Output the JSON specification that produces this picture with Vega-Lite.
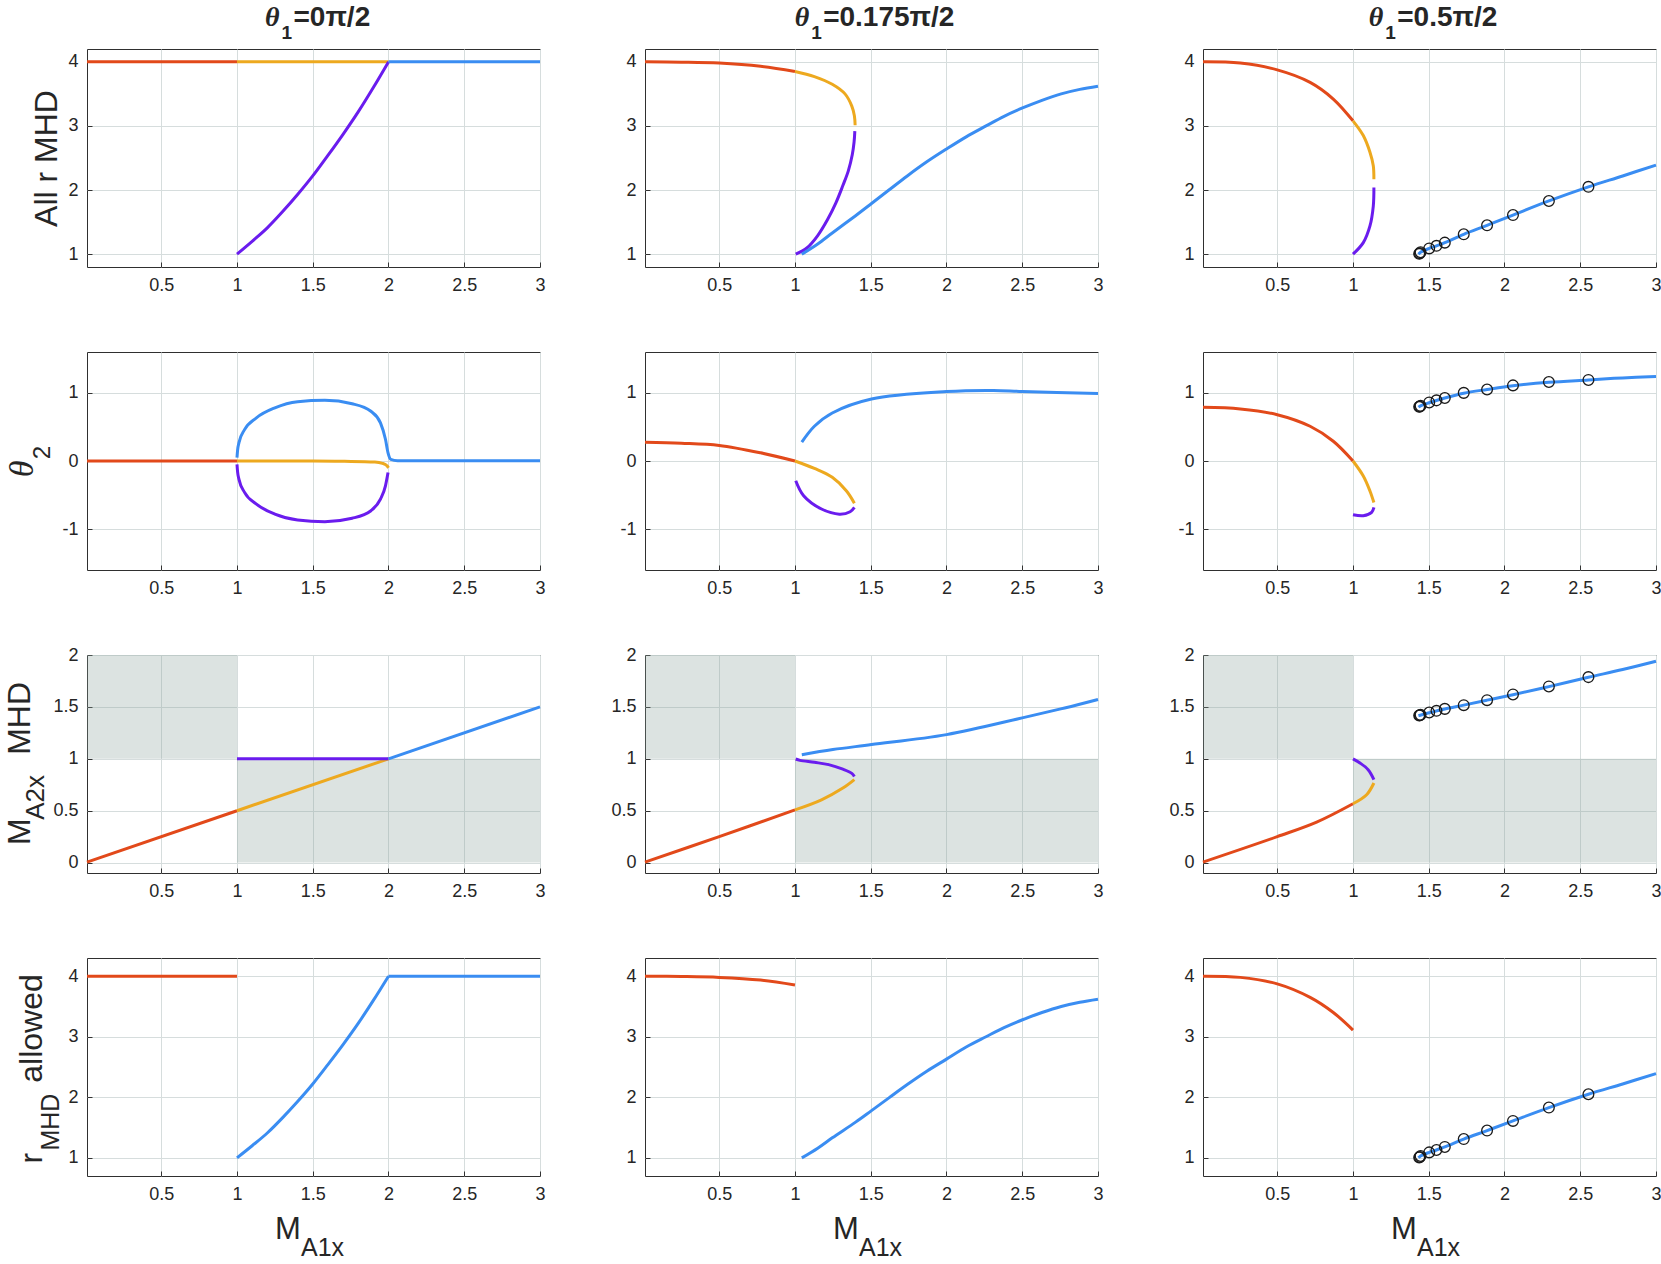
{
"$schema": "https://vega.github.io/schema/vega-lite/v6.json",
"background": "white",
"padding": {"left": 3, "top": 3, "right": 0, "bottom": 0},
"config": {
 "view": {"stroke": "#2f2f2f", "strokeWidth": 1},
 "axis": {"domain": false, "grid": true, "gridColor": "#d6dddd", "gridWidth": 1, "tickColor": "#333333", "tickSize": -5, "tickWidth": 1, "labelFont": "Liberation Sans", "labelFontSize": 18, "labelColor": "#262626", "labelFlush": false, "labelOverlap": false},
 "axisX": {"labelPadding": 14},
 "axisY": {"labelPadding": 14},
 "text": {"font": "Liberation Sans", "color": "#262626"}
},
"datasets": {
 "one": [{}],
 "shade": [{"x": 0.01, "x2": 1, "y": 1, "y2": 2}, {"x": 1, "x2": 3, "y": 0, "y2": 1}],
 "o_r": [{"x":1.437,"y":1.005},{"x":1.441,"y":1.015},{"x":1.446,"y":1.03},{"x":1.503,"y":1.09},{"x":1.551,"y":1.13},{"x":1.606,"y":1.18},{"x":1.731,"y":1.31},{"x":1.885,"y":1.45},{"x":2.056,"y":1.61},{"x":2.293,"y":1.83},{"x":2.554,"y":2.05}],
 "o_t": [{"x":1.437,"y":0.795},{"x":1.441,"y":0.8},{"x":1.446,"y":0.81},{"x":1.503,"y":0.86},{"x":1.551,"y":0.89},{"x":1.606,"y":0.925},{"x":1.731,"y":1.0},{"x":1.885,"y":1.05},{"x":2.056,"y":1.11},{"x":2.293,"y":1.16},{"x":2.554,"y":1.19}],
 "o_m": [{"x":1.437,"y":1.418},{"x":1.441,"y":1.42},{"x":1.446,"y":1.424},{"x":1.503,"y":1.446},{"x":1.551,"y":1.462},{"x":1.606,"y":1.481},{"x":1.731,"y":1.517},{"x":1.885,"y":1.565},{"x":2.056,"y":1.62},{"x":2.293,"y":1.697},{"x":2.554,"y":1.787}],
 "c1r": [
  {"b":"b1","i":0,"x":0.01,"y":4},{"b":"b1","i":1,"x":1,"y":4},
  {"b":"b2","i":0,"x":1,"y":4},{"b":"b2","i":1,"x":2,"y":4},
  {"b":"b3","i":0,"x":1,"y":1},{"b":"b3","i":1,"x":1.1,"y":1.2},{"b":"b3","i":2,"x":1.2,"y":1.41},{"b":"b3","i":3,"x":1.3,"y":1.66},{"b":"b3","i":4,"x":1.4,"y":1.93},{"b":"b3","i":5,"x":1.5,"y":2.22},{"b":"b3","i":6,"x":1.6,"y":2.54},{"b":"b3","i":7,"x":1.7,"y":2.87},{"b":"b3","i":8,"x":1.8,"y":3.22},{"b":"b3","i":9,"x":1.9,"y":3.6},{"b":"b3","i":10,"x":2,"y":4},
  {"b":"b5","i":0,"x":2,"y":4},{"b":"b5","i":1,"x":3,"y":4}
 ],
 "c1t": [
  {"b":"b1","i":0,"x":0.01,"y":0},{"b":"b1","i":1,"x":1,"y":0},
  {"b":"b2","i":0,"x":1,"y":0},{"b":"b2","i":1,"x":1.5,"y":0},{"b":"b2","i":2,"x":1.71,"y":-0.005},{"b":"b2","i":3,"x":1.91,"y":-0.015},{"b":"b2","i":4,"x":1.96,"y":-0.034},{"b":"b2","i":5,"x":1.99,"y":-0.07},{"b":"b2","i":6,"x":2,"y":-0.1},
  {"b":"b3","i":0,"x":1,"y":-0.05},{"b":"b3","i":1,"x":1.004,"y":-0.16},{"b":"b3","i":2,"x":1.013,"y":-0.27},{"b":"b3","i":3,"x":1.05,"y":-0.46},{"b":"b3","i":4,"x":1.126,"y":-0.63},{"b":"b3","i":5,"x":1.25,"y":-0.78},{"b":"b3","i":6,"x":1.4,"y":-0.865},{"b":"b3","i":7,"x":1.58,"y":-0.89},{"b":"b3","i":8,"x":1.76,"y":-0.84},{"b":"b3","i":9,"x":1.884,"y":-0.73},{"b":"b3","i":10,"x":1.947,"y":-0.56},{"b":"b3","i":11,"x":1.98,"y":-0.365},{"b":"b3","i":12,"x":1.997,"y":-0.17},
  {"b":"b4","i":0,"x":1,"y":0.05},{"b":"b4","i":1,"x":1.004,"y":0.16},{"b":"b4","i":2,"x":1.013,"y":0.27},{"b":"b4","i":3,"x":1.05,"y":0.46},{"b":"b4","i":4,"x":1.126,"y":0.63},{"b":"b4","i":5,"x":1.25,"y":0.78},{"b":"b4","i":6,"x":1.4,"y":0.87},{"b":"b4","i":7,"x":1.58,"y":0.89},{"b":"b4","i":8,"x":1.76,"y":0.84},{"b":"b4","i":9,"x":1.884,"y":0.73},{"b":"b4","i":10,"x":1.947,"y":0.56},{"b":"b4","i":11,"x":1.98,"y":0.32},{"b":"b4","i":12,"x":1.997,"y":0.12},{"b":"b4","i":13,"x":2.015,"y":0.024},{"b":"b4","i":14,"x":2.06,"y":0.005},{"b":"b4","i":15,"x":3,"y":0.005}
 ],
 "c1m": [
  {"b":"b1","i":0,"x":0.01,"y":0.005},{"b":"b1","i":1,"x":1,"y":0.5},
  {"b":"b2","i":0,"x":1,"y":0.5},{"b":"b2","i":1,"x":2,"y":1},
  {"b":"b3","i":0,"x":1,"y":1},{"b":"b3","i":1,"x":2,"y":1},
  {"b":"b4","i":0,"x":2,"y":1},{"b":"b4","i":1,"x":3,"y":1.5}
 ],
 "c1a": [
  {"b":"b1","i":0,"x":0.01,"y":4},{"b":"b1","i":1,"x":1,"y":4},
  {"b":"b4","i":0,"x":1,"y":1},{"b":"b4","i":1,"x":1.1,"y":1.2},{"b":"b4","i":2,"x":1.2,"y":1.41},{"b":"b4","i":3,"x":1.3,"y":1.66},{"b":"b4","i":4,"x":1.4,"y":1.93},{"b":"b4","i":5,"x":1.5,"y":2.22},{"b":"b4","i":6,"x":1.6,"y":2.54},{"b":"b4","i":7,"x":1.7,"y":2.87},{"b":"b4","i":8,"x":1.8,"y":3.22},{"b":"b4","i":9,"x":1.9,"y":3.6},{"b":"b4","i":10,"x":2,"y":4},
  {"b":"b5","i":0,"x":2,"y":4},{"b":"b5","i":1,"x":3,"y":4}
 ],
 "c2r": [
  {"b":"b1","i":0,"x":0.01,"y":4},{"b":"b1","i":1,"x":0.25,"y":3.995},{"b":"b1","i":2,"x":0.5,"y":3.98},{"b":"b1","i":3,"x":0.773,"y":3.93},{"b":"b1","i":4,"x":1,"y":3.85},
  {"b":"b2","i":0,"x":1,"y":3.85},{"b":"b2","i":1,"x":1.128,"y":3.77},{"b":"b2","i":2,"x":1.246,"y":3.65},{"b":"b2","i":3,"x":1.33,"y":3.5},{"b":"b2","i":4,"x":1.375,"y":3.31},{"b":"b2","i":5,"x":1.392,"y":3.16},{"b":"b2","i":6,"x":1.397,"y":3.01},
  {"b":"b3","i":0,"x":1.395,"y":2.92},{"b":"b3","i":1,"x":1.39,"y":2.75},{"b":"b3","i":2,"x":1.378,"y":2.55},{"b":"b3","i":3,"x":1.352,"y":2.3},{"b":"b3","i":4,"x":1.316,"y":2.07},{"b":"b3","i":5,"x":1.27,"y":1.8},{"b":"b3","i":6,"x":1.215,"y":1.54},{"b":"b3","i":7,"x":1.15,"y":1.29},{"b":"b3","i":8,"x":1.08,"y":1.1},{"b":"b3","i":9,"x":1.005,"y":1.0},
  {"b":"b4","i":0,"x":1.045,"y":1.0},{"b":"b4","i":1,"x":1.15,"y":1.16},{"b":"b4","i":2,"x":1.246,"y":1.33},{"b":"b4","i":3,"x":1.4,"y":1.6},{"b":"b4","i":4,"x":1.505,"y":1.79},{"b":"b4","i":5,"x":1.62,"y":2.0},{"b":"b4","i":6,"x":1.741,"y":2.22},{"b":"b4","i":7,"x":1.87,"y":2.44},{"b":"b4","i":8,"x":2.0,"y":2.64},{"b":"b4","i":9,"x":2.13,"y":2.83},{"b":"b4","i":10,"x":2.261,"y":3.0},{"b":"b4","i":11,"x":2.38,"y":3.15},{"b":"b4","i":12,"x":2.502,"y":3.28},{"b":"b4","i":13,"x":2.63,"y":3.4},{"b":"b4","i":14,"x":2.757,"y":3.5},{"b":"b4","i":15,"x":2.88,"y":3.57},{"b":"b4","i":16,"x":3.0,"y":3.62}
 ],
 "c2t": [
  {"b":"b1","i":0,"x":0.01,"y":0.277},{"b":"b1","i":1,"x":0.25,"y":0.262},{"b":"b1","i":2,"x":0.5,"y":0.229},{"b":"b1","i":3,"x":0.773,"y":0.12},{"b":"b1","i":4,"x":1,"y":0},
  {"b":"b2","i":0,"x":1,"y":0},{"b":"b2","i":1,"x":1.128,"y":-0.11},{"b":"b2","i":2,"x":1.246,"y":-0.24},{"b":"b2","i":3,"x":1.34,"y":-0.44},{"b":"b2","i":4,"x":1.392,"y":-0.62},
  {"b":"b3","i":0,"x":1.392,"y":-0.68},{"b":"b3","i":1,"x":1.364,"y":-0.745},{"b":"b3","i":2,"x":1.293,"y":-0.78},{"b":"b3","i":3,"x":1.175,"y":-0.705},{"b":"b3","i":4,"x":1.057,"y":-0.51},{"b":"b3","i":5,"x":1.005,"y":-0.29},
  {"b":"b4","i":0,"x":1.045,"y":0.277},{"b":"b4","i":1,"x":1.128,"y":0.51},{"b":"b4","i":2,"x":1.246,"y":0.705},{"b":"b4","i":3,"x":1.505,"y":0.91},{"b":"b4","i":4,"x":2.0,"y":1.02},{"b":"b4","i":5,"x":2.31,"y":1.036},{"b":"b4","i":6,"x":2.5,"y":1.02},{"b":"b4","i":7,"x":3.0,"y":0.99}
 ],
 "c2m": [
  {"b":"b1","i":0,"x":0.01,"y":0.005},{"b":"b1","i":1,"x":0.5,"y":0.25},{"b":"b1","i":2,"x":1,"y":0.508},
  {"b":"b2","i":0,"x":1,"y":0.508},{"b":"b2","i":1,"x":1.175,"y":0.605},{"b":"b2","i":2,"x":1.316,"y":0.718},{"b":"b2","i":3,"x":1.392,"y":0.8},
  {"b":"b3","i":0,"x":1.392,"y":0.83},{"b":"b3","i":1,"x":1.375,"y":0.86},{"b":"b3","i":2,"x":1.316,"y":0.9},{"b":"b3","i":3,"x":1.222,"y":0.944},{"b":"b3","i":4,"x":1.128,"y":0.966},{"b":"b3","i":5,"x":1.033,"y":0.985},{"b":"b3","i":6,"x":1.005,"y":0.998},
  {"b":"b4","i":0,"x":1.045,"y":1.04},{"b":"b4","i":1,"x":1.25,"y":1.089},{"b":"b4","i":2,"x":1.505,"y":1.137},{"b":"b4","i":3,"x":2.0,"y":1.233},{"b":"b4","i":4,"x":2.5,"y":1.394},{"b":"b4","i":5,"x":2.78,"y":1.49},{"b":"b4","i":6,"x":3.0,"y":1.572}
 ],
 "c2a": [
  {"b":"b1","i":0,"x":0.01,"y":4},{"b":"b1","i":1,"x":0.25,"y":3.995},{"b":"b1","i":2,"x":0.5,"y":3.98},{"b":"b1","i":3,"x":0.773,"y":3.935},{"b":"b1","i":4,"x":1,"y":3.855},
  {"b":"b4","i":0,"x":1.045,"y":1.0},{"b":"b4","i":1,"x":1.15,"y":1.16},{"b":"b4","i":2,"x":1.246,"y":1.33},{"b":"b4","i":3,"x":1.4,"y":1.59},{"b":"b4","i":4,"x":1.505,"y":1.78},{"b":"b4","i":5,"x":1.62,"y":1.99},{"b":"b4","i":6,"x":1.741,"y":2.21},{"b":"b4","i":7,"x":1.87,"y":2.43},{"b":"b4","i":8,"x":2.0,"y":2.63},{"b":"b4","i":9,"x":2.13,"y":2.83},{"b":"b4","i":10,"x":2.261,"y":3.0},{"b":"b4","i":11,"x":2.38,"y":3.15},{"b":"b4","i":12,"x":2.502,"y":3.28},{"b":"b4","i":13,"x":2.63,"y":3.4},{"b":"b4","i":14,"x":2.757,"y":3.5},{"b":"b4","i":15,"x":2.88,"y":3.57},{"b":"b4","i":16,"x":3.0,"y":3.62}
 ],
 "c3r": [
  {"b":"b1","i":0,"x":0.01,"y":4},{"b":"b1","i":1,"x":0.256,"y":3.98},{"b":"b1","i":2,"x":0.5,"y":3.875},{"b":"b1","i":3,"x":0.717,"y":3.68},{"b":"b1","i":4,"x":0.87,"y":3.42},{"b":"b1","i":5,"x":1,"y":3.08},
  {"b":"b2","i":0,"x":1,"y":3.08},{"b":"b2","i":1,"x":1.068,"y":2.85},{"b":"b2","i":2,"x":1.112,"y":2.59},{"b":"b2","i":3,"x":1.134,"y":2.38},{"b":"b2","i":4,"x":1.138,"y":2.17},
  {"b":"b3","i":0,"x":1.138,"y":2.04},{"b":"b3","i":1,"x":1.134,"y":1.75},{"b":"b3","i":2,"x":1.112,"y":1.44},{"b":"b3","i":3,"x":1.068,"y":1.18},{"b":"b3","i":4,"x":1,"y":1.0},
  {"b":"b4","i":0,"x":1.432,"y":1.0},{"b":"b4","i":1,"x":1.446,"y":1.03},{"b":"b4","i":2,"x":1.503,"y":1.09},{"b":"b4","i":3,"x":1.551,"y":1.13},{"b":"b4","i":4,"x":1.606,"y":1.18},{"b":"b4","i":5,"x":1.731,"y":1.31},{"b":"b4","i":6,"x":1.885,"y":1.45},{"b":"b4","i":7,"x":2.056,"y":1.61},{"b":"b4","i":8,"x":2.293,"y":1.83},{"b":"b4","i":9,"x":2.554,"y":2.05},{"b":"b4","i":10,"x":2.78,"y":2.22},{"b":"b4","i":11,"x":3.0,"y":2.39}
 ],
 "c3t": [
  {"b":"b1","i":0,"x":0.01,"y":0.788},{"b":"b1","i":1,"x":0.256,"y":0.764},{"b":"b1","i":2,"x":0.5,"y":0.68},{"b":"b1","i":3,"x":0.717,"y":0.51},{"b":"b1","i":4,"x":0.87,"y":0.29},{"b":"b1","i":5,"x":1,"y":0},
  {"b":"b2","i":0,"x":1,"y":0},{"b":"b2","i":1,"x":1.068,"y":-0.22},{"b":"b2","i":2,"x":1.112,"y":-0.44},{"b":"b2","i":3,"x":1.138,"y":-0.61},
  {"b":"b3","i":0,"x":1.138,"y":-0.68},{"b":"b3","i":1,"x":1.123,"y":-0.754},{"b":"b3","i":2,"x":1.068,"y":-0.803},{"b":"b3","i":3,"x":1.0,"y":-0.788},
  {"b":"b4","i":0,"x":1.432,"y":0.79},{"b":"b4","i":1,"x":1.446,"y":0.81},{"b":"b4","i":2,"x":1.503,"y":0.855},{"b":"b4","i":3,"x":1.606,"y":0.925},{"b":"b4","i":4,"x":1.731,"y":0.995},{"b":"b4","i":5,"x":1.885,"y":1.05},{"b":"b4","i":6,"x":2.056,"y":1.105},{"b":"b4","i":7,"x":2.293,"y":1.155},{"b":"b4","i":8,"x":2.554,"y":1.19},{"b":"b4","i":9,"x":2.78,"y":1.22},{"b":"b4","i":10,"x":3.0,"y":1.24}
 ],
 "c3m": [
  {"b":"b1","i":0,"x":0.01,"y":0.005},{"b":"b1","i":1,"x":0.5,"y":0.25},{"b":"b1","i":2,"x":0.76,"y":0.39},{"b":"b1","i":3,"x":1,"y":0.567},
  {"b":"b2","i":0,"x":1,"y":0.567},{"b":"b2","i":1,"x":1.09,"y":0.654},{"b":"b2","i":2,"x":1.138,"y":0.767},
  {"b":"b3","i":0,"x":1.138,"y":0.8},{"b":"b3","i":1,"x":1.1,"y":0.895},{"b":"b3","i":2,"x":1.046,"y":0.96},{"b":"b3","i":3,"x":1.0,"y":1.0},
  {"b":"b4","i":0,"x":1.432,"y":1.415},{"b":"b4","i":1,"x":1.503,"y":1.443},{"b":"b4","i":2,"x":1.606,"y":1.48},{"b":"b4","i":3,"x":1.731,"y":1.517},{"b":"b4","i":4,"x":1.885,"y":1.565},{"b":"b4","i":5,"x":2.056,"y":1.617},{"b":"b4","i":6,"x":2.293,"y":1.695},{"b":"b4","i":7,"x":2.554,"y":1.785},{"b":"b4","i":8,"x":2.78,"y":1.86},{"b":"b4","i":9,"x":3.0,"y":1.94}
 ],
 "c3a": [
  {"b":"b1","i":0,"x":0.01,"y":4},{"b":"b1","i":1,"x":0.256,"y":3.98},{"b":"b1","i":2,"x":0.5,"y":3.873},{"b":"b1","i":3,"x":0.717,"y":3.65},{"b":"b1","i":4,"x":0.87,"y":3.4},{"b":"b1","i":5,"x":1,"y":3.11},
  {"b":"b4","i":0,"x":1.432,"y":1.0},{"b":"b4","i":1,"x":1.446,"y":1.03},{"b":"b4","i":2,"x":1.503,"y":1.09},{"b":"b4","i":3,"x":1.551,"y":1.13},{"b":"b4","i":4,"x":1.606,"y":1.18},{"b":"b4","i":5,"x":1.731,"y":1.31},{"b":"b4","i":6,"x":1.885,"y":1.45},{"b":"b4","i":7,"x":2.056,"y":1.61},{"b":"b4","i":8,"x":2.293,"y":1.83},{"b":"b4","i":9,"x":2.554,"y":2.05},{"b":"b4","i":10,"x":2.78,"y":2.22},{"b":"b4","i":11,"x":3.0,"y":2.39}
 ]
},
"columns": 3,
"bounds": "flush",
"align": "all",
"spacing": {"row": 85, "column": 105},
"concat": [
 {"width": 453, "height": 218, "layer": [
  {"data": {"name": "c1r"}, "mark": {"type": "line", "strokeWidth": 3, "interpolate": "monotone"},
   "encoding": {
    "x": {"field": "x", "type": "quantitative", "scale": {"domain": [0.01, 3], "nice": false, "zero": false}, "axis": {"values": [0.5,1,1.5,2,2.5,3], "title": null, "labelExpr": "'' + datum.value"}},
    "y": {"field": "y", "type": "quantitative", "scale": {"domain": [0.8, 4.2], "nice": false, "zero": false}, "axis": {"values": [1,2,3,4], "labelExpr": "'' + datum.value", "title": "All r MHD", "titleX": -31, "titleY": 109, "titleAngle": 270, "titleAlign": "center", "titleBaseline": "alphabetic", "titleFont": "Liberation Sans", "titleFontSize": 32, "titleFontWeight": "normal", "titleColor": "#262626"}},
    "color": {"field": "b", "type": "nominal", "scale": {"domain": ["b1","b2","b3","b4","b5"], "range": ["#E2491A","#EDA91F","#6A1CEE","#3A8DF2","#3A8DF2"]}, "legend": null},
    "order": {"field": "i", "type": "quantitative"}}},
  {"data": {"name": "one"}, "mark": {"type": "text", "text": "θ", "font": "Liberation Serif", "fontStyle": "italic", "fontWeight": "bold", "fontSize": 28, "align": "left", "baseline": "alphabetic", "color": "#262626"},
   "encoding": {"x": {"datum": 1.185, "type": "quantitative"}, "y": {"datum": 4.554, "type": "quantitative"}}},
  {"data": {"name": "one"}, "mark": {"type": "text", "text": "1", "fontWeight": "bold", "fontSize": 19, "align": "left", "baseline": "alphabetic", "color": "#262626"},
   "encoding": {"x": {"datum": 1.294, "type": "quantitative"}, "y": {"datum": 4.351, "type": "quantitative"}}},
  {"data": {"name": "one"}, "mark": {"type": "text", "text": "=0π/2", "fontWeight": "bold", "fontSize": 28, "align": "left", "baseline": "alphabetic", "color": "#262626"},
   "encoding": {"x": {"datum": 1.373, "type": "quantitative"}, "y": {"datum": 4.554, "type": "quantitative"}}}
 ]},
 {"width": 453, "height": 218, "layer": [
  {"data": {"name": "c2r"}, "mark": {"type": "line", "strokeWidth": 3, "interpolate": "catmull-rom"},
   "encoding": {
    "x": {"field": "x", "type": "quantitative", "scale": {"domain": [0.01, 3], "nice": false, "zero": false}, "axis": {"values": [0.5,1,1.5,2,2.5,3], "title": null, "labelExpr": "'' + datum.value"}},
    "y": {"field": "y", "type": "quantitative", "scale": {"domain": [0.8, 4.2], "nice": false, "zero": false}, "axis": {"values": [1,2,3,4], "labelExpr": "'' + datum.value", "title": null}},
    "color": {"field": "b", "type": "nominal", "scale": {"domain": ["b1","b2","b3","b4","b5"], "range": ["#E2491A","#EDA91F","#6A1CEE","#3A8DF2","#3A8DF2"]}, "legend": null},
    "order": {"field": "i", "type": "quantitative"}}},
  {"data": {"name": "one"}, "mark": {"type": "text", "text": "θ", "font": "Liberation Serif", "fontStyle": "italic", "fontWeight": "bold", "fontSize": 28, "align": "left", "baseline": "alphabetic", "color": "#262626"},
   "encoding": {"x": {"datum": 0.998, "type": "quantitative"}, "y": {"datum": 4.554, "type": "quantitative"}}},
  {"data": {"name": "one"}, "mark": {"type": "text", "text": "1", "fontWeight": "bold", "fontSize": 19, "align": "left", "baseline": "alphabetic", "color": "#262626"},
   "encoding": {"x": {"datum": 1.107, "type": "quantitative"}, "y": {"datum": 4.351, "type": "quantitative"}}},
  {"data": {"name": "one"}, "mark": {"type": "text", "text": "=0.175π/2", "fontWeight": "bold", "fontSize": 28, "align": "left", "baseline": "alphabetic", "color": "#262626"},
   "encoding": {"x": {"datum": 1.186, "type": "quantitative"}, "y": {"datum": 4.554, "type": "quantitative"}}}
 ]},
 {"width": 453, "height": 218, "layer": [
  {"data": {"name": "c3r"}, "mark": {"type": "line", "strokeWidth": 3, "interpolate": "catmull-rom"},
   "encoding": {
    "x": {"field": "x", "type": "quantitative", "scale": {"domain": [0.01, 3], "nice": false, "zero": false}, "axis": {"values": [0.5,1,1.5,2,2.5,3], "title": null, "labelExpr": "'' + datum.value"}},
    "y": {"field": "y", "type": "quantitative", "scale": {"domain": [0.8, 4.2], "nice": false, "zero": false}, "axis": {"values": [1,2,3,4], "labelExpr": "'' + datum.value", "title": null}},
    "color": {"field": "b", "type": "nominal", "scale": {"domain": ["b1","b2","b3","b4","b5"], "range": ["#E2491A","#EDA91F","#6A1CEE","#3A8DF2","#3A8DF2"]}, "legend": null},
    "order": {"field": "i", "type": "quantitative"}}},
  {"data": {"name": "o_r"}, "mark": {"type": "point", "shape": "circle", "filled": false, "stroke": "#1a1a1a", "strokeWidth": 1.3, "size": 115, "opacity": 1},
   "encoding": {"x": {"field": "x", "type": "quantitative"}, "y": {"field": "y", "type": "quantitative"}}},
  {"data": {"name": "one"}, "mark": {"type": "text", "text": "θ", "font": "Liberation Serif", "fontStyle": "italic", "fontWeight": "bold", "fontSize": 28, "align": "left", "baseline": "alphabetic", "color": "#262626"},
   "encoding": {"x": {"datum": 1.104, "type": "quantitative"}, "y": {"datum": 4.554, "type": "quantitative"}}},
  {"data": {"name": "one"}, "mark": {"type": "text", "text": "1", "fontWeight": "bold", "fontSize": 19, "align": "left", "baseline": "alphabetic", "color": "#262626"},
   "encoding": {"x": {"datum": 1.213, "type": "quantitative"}, "y": {"datum": 4.351, "type": "quantitative"}}},
  {"data": {"name": "one"}, "mark": {"type": "text", "text": "=0.5π/2", "fontWeight": "bold", "fontSize": 28, "align": "left", "baseline": "alphabetic", "color": "#262626"},
   "encoding": {"x": {"datum": 1.292, "type": "quantitative"}, "y": {"datum": 4.554, "type": "quantitative"}}}
 ]},
 {"width": 453, "height": 218, "layer": [
  {"data": {"name": "c1t"}, "mark": {"type": "line", "strokeWidth": 3, "interpolate": "monotone"},
   "encoding": {
    "x": {"field": "x", "type": "quantitative", "scale": {"domain": [0.01, 3], "nice": false, "zero": false}, "axis": {"values": [0.5,1,1.5,2,2.5,3], "title": null, "labelExpr": "'' + datum.value"}},
    "y": {"field": "y", "type": "quantitative", "scale": {"domain": [-1.6, 1.6], "nice": false, "zero": false}, "axis": {"values": [-1,0,1], "labelExpr": "'' + datum.value", "title": null}},
    "color": {"field": "b", "type": "nominal", "scale": {"domain": ["b1","b2","b3","b4","b5"], "range": ["#E2491A","#EDA91F","#6A1CEE","#3A8DF2","#3A8DF2"]}, "legend": null},
    "order": {"field": "i", "type": "quantitative"}}},
  {"data": {"name": "one"}, "mark": {"type": "text", "text": "θ", "font": "Liberation Serif", "fontStyle": "italic", "fontSize": 34, "angle": 270, "align": "left", "baseline": "alphabetic", "color": "#262626"},
   "encoding": {"x": {"datum": -0.3464, "type": "quantitative"}, "y": {"datum": -0.239, "type": "quantitative"}}},
  {"data": {"name": "one"}, "mark": {"type": "text", "text": "2", "fontSize": 24, "angle": 270, "align": "left", "baseline": "alphabetic", "color": "#262626"},
   "encoding": {"x": {"datum": -0.2342, "type": "quantitative"}, "y": {"datum": 0.025, "type": "quantitative"}}}
 ]},
 {"width": 453, "height": 218, "layer": [
  {"data": {"name": "c2t"}, "mark": {"type": "line", "strokeWidth": 3, "interpolate": "catmull-rom"},
   "encoding": {
    "x": {"field": "x", "type": "quantitative", "scale": {"domain": [0.01, 3], "nice": false, "zero": false}, "axis": {"values": [0.5,1,1.5,2,2.5,3], "title": null, "labelExpr": "'' + datum.value"}},
    "y": {"field": "y", "type": "quantitative", "scale": {"domain": [-1.6, 1.6], "nice": false, "zero": false}, "axis": {"values": [-1,0,1], "labelExpr": "'' + datum.value", "title": null}},
    "color": {"field": "b", "type": "nominal", "scale": {"domain": ["b1","b2","b3","b4","b5"], "range": ["#E2491A","#EDA91F","#6A1CEE","#3A8DF2","#3A8DF2"]}, "legend": null},
    "order": {"field": "i", "type": "quantitative"}}}
 ]},
 {"width": 453, "height": 218, "layer": [
  {"data": {"name": "c3t"}, "mark": {"type": "line", "strokeWidth": 3, "interpolate": "catmull-rom"},
   "encoding": {
    "x": {"field": "x", "type": "quantitative", "scale": {"domain": [0.01, 3], "nice": false, "zero": false}, "axis": {"values": [0.5,1,1.5,2,2.5,3], "title": null, "labelExpr": "'' + datum.value"}},
    "y": {"field": "y", "type": "quantitative", "scale": {"domain": [-1.6, 1.6], "nice": false, "zero": false}, "axis": {"values": [-1,0,1], "labelExpr": "'' + datum.value", "title": null}},
    "color": {"field": "b", "type": "nominal", "scale": {"domain": ["b1","b2","b3","b4","b5"], "range": ["#E2491A","#EDA91F","#6A1CEE","#3A8DF2","#3A8DF2"]}, "legend": null},
    "order": {"field": "i", "type": "quantitative"}}},
  {"data": {"name": "o_t"}, "mark": {"type": "point", "shape": "circle", "filled": false, "stroke": "#1a1a1a", "strokeWidth": 1.3, "size": 115, "opacity": 1},
   "encoding": {"x": {"field": "x", "type": "quantitative"}, "y": {"field": "y", "type": "quantitative"}}}
 ]},
 {"width": 453, "height": 218, "layer": [
  {"data": {"name": "shade"}, "mark": {"type": "rect", "color": "#8aa39a", "opacity": 0.3},
   "encoding": {"x": {"field": "x", "type": "quantitative"}, "x2": {"field": "x2"}, "y": {"field": "y", "type": "quantitative"}, "y2": {"field": "y2"}}},
  {"data": {"name": "c1m"}, "mark": {"type": "line", "strokeWidth": 3, "interpolate": "linear"},
   "encoding": {
    "x": {"field": "x", "type": "quantitative", "scale": {"domain": [0.01, 3], "nice": false, "zero": false}, "axis": {"values": [0.5,1,1.5,2,2.5,3], "title": null, "labelExpr": "'' + datum.value"}},
    "y": {"field": "y", "type": "quantitative", "scale": {"domain": [-0.1, 2], "nice": false, "zero": false}, "axis": {"values": [0,0.5,1,1.5,2], "labelExpr": "'' + datum.value", "title": null}},
    "color": {"field": "b", "type": "nominal", "scale": {"domain": ["b1","b2","b3","b4","b5"], "range": ["#E2491A","#EDA91F","#6A1CEE","#3A8DF2","#3A8DF2"]}, "legend": null},
    "order": {"field": "i", "type": "quantitative"}}},
  {"data": {"name": "one"}, "mark": {"type": "text", "text": "M", "fontSize": 32, "angle": 270, "align": "left", "baseline": "alphabetic", "color": "#262626"},
   "encoding": {"x": {"datum": -0.3662, "type": "quantitative"}, "y": {"datum": 0.1705, "type": "quantitative"}}},
  {"data": {"name": "one"}, "mark": {"type": "text", "text": "A2x", "fontSize": 26, "angle": 270, "align": "left", "baseline": "alphabetic", "color": "#262626"},
   "encoding": {"x": {"datum": -0.2738, "type": "quantitative"}, "y": {"datum": 0.413, "type": "quantitative"}}},
  {"data": {"name": "one"}, "mark": {"type": "text", "text": "MHD", "fontSize": 32, "angle": 270, "align": "left", "baseline": "alphabetic", "color": "#262626"},
   "encoding": {"x": {"datum": -0.3662, "type": "quantitative"}, "y": {"datum": 1.038, "type": "quantitative"}}}
 ]},
 {"width": 453, "height": 218, "layer": [
  {"data": {"name": "shade"}, "mark": {"type": "rect", "color": "#8aa39a", "opacity": 0.3},
   "encoding": {"x": {"field": "x", "type": "quantitative"}, "x2": {"field": "x2"}, "y": {"field": "y", "type": "quantitative"}, "y2": {"field": "y2"}}},
  {"data": {"name": "c2m"}, "mark": {"type": "line", "strokeWidth": 3, "interpolate": "catmull-rom"},
   "encoding": {
    "x": {"field": "x", "type": "quantitative", "scale": {"domain": [0.01, 3], "nice": false, "zero": false}, "axis": {"values": [0.5,1,1.5,2,2.5,3], "title": null, "labelExpr": "'' + datum.value"}},
    "y": {"field": "y", "type": "quantitative", "scale": {"domain": [-0.1, 2], "nice": false, "zero": false}, "axis": {"values": [0,0.5,1,1.5,2], "labelExpr": "'' + datum.value", "title": null}},
    "color": {"field": "b", "type": "nominal", "scale": {"domain": ["b1","b2","b3","b4","b5"], "range": ["#E2491A","#EDA91F","#6A1CEE","#3A8DF2","#3A8DF2"]}, "legend": null},
    "order": {"field": "i", "type": "quantitative"}}}
 ]},
 {"width": 453, "height": 218, "layer": [
  {"data": {"name": "shade"}, "mark": {"type": "rect", "color": "#8aa39a", "opacity": 0.3},
   "encoding": {"x": {"field": "x", "type": "quantitative"}, "x2": {"field": "x2"}, "y": {"field": "y", "type": "quantitative"}, "y2": {"field": "y2"}}},
  {"data": {"name": "c3m"}, "mark": {"type": "line", "strokeWidth": 3, "interpolate": "catmull-rom"},
   "encoding": {
    "x": {"field": "x", "type": "quantitative", "scale": {"domain": [0.01, 3], "nice": false, "zero": false}, "axis": {"values": [0.5,1,1.5,2,2.5,3], "title": null, "labelExpr": "'' + datum.value"}},
    "y": {"field": "y", "type": "quantitative", "scale": {"domain": [-0.1, 2], "nice": false, "zero": false}, "axis": {"values": [0,0.5,1,1.5,2], "labelExpr": "'' + datum.value", "title": null}},
    "color": {"field": "b", "type": "nominal", "scale": {"domain": ["b1","b2","b3","b4","b5"], "range": ["#E2491A","#EDA91F","#6A1CEE","#3A8DF2","#3A8DF2"]}, "legend": null},
    "order": {"field": "i", "type": "quantitative"}}},
  {"data": {"name": "o_m"}, "mark": {"type": "point", "shape": "circle", "filled": false, "stroke": "#1a1a1a", "strokeWidth": 1.3, "size": 115, "opacity": 1},
   "encoding": {"x": {"field": "x", "type": "quantitative"}, "y": {"field": "y", "type": "quantitative"}}}
 ]},
 {"width": 453, "height": 218, "layer": [
  {"data": {"name": "c1a"}, "mark": {"type": "line", "strokeWidth": 3, "interpolate": "monotone"},
   "encoding": {
    "x": {"field": "x", "type": "quantitative", "scale": {"domain": [0.01, 3], "nice": false, "zero": false}, "axis": {"values": [0.5,1,1.5,2,2.5,3], "title": null, "labelExpr": "'' + datum.value"}},
    "y": {"field": "y", "type": "quantitative", "scale": {"domain": [0.7, 4.3], "nice": false, "zero": false}, "axis": {"values": [1,2,3,4], "labelExpr": "'' + datum.value", "title": null}},
    "color": {"field": "b", "type": "nominal", "scale": {"domain": ["b1","b2","b3","b4","b5"], "range": ["#E2491A","#EDA91F","#6A1CEE","#3A8DF2","#3A8DF2"]}, "legend": null},
    "order": {"field": "i", "type": "quantitative"}}},
  {"data": {"name": "one"}, "mark": {"type": "text", "text": "r", "fontSize": 32, "angle": 270, "align": "left", "baseline": "alphabetic", "color": "#262626"},
   "encoding": {"x": {"datum": -0.287, "type": "quantitative"}, "y": {"datum": 0.906, "type": "quantitative"}}},
  {"data": {"name": "one"}, "mark": {"type": "text", "text": "MHD", "fontSize": 25, "angle": 270, "align": "left", "baseline": "alphabetic", "color": "#262626"},
   "encoding": {"x": {"datum": -0.1748, "type": "quantitative"}, "y": {"datum": 1.12, "type": "quantitative"}}},
  {"data": {"name": "one"}, "mark": {"type": "text", "text": "allowed", "fontSize": 32, "angle": 270, "align": "left", "baseline": "alphabetic", "color": "#262626"},
   "encoding": {"x": {"datum": -0.287, "type": "quantitative"}, "y": {"datum": 2.24, "type": "quantitative"}}},
  {"data": {"name": "one"}, "mark": {"type": "text", "text": "M", "fontSize": 31, "align": "left", "baseline": "alphabetic", "color": "#262626"},
   "encoding": {"x": {"datum": 1.251, "type": "quantitative"}, "y": {"datum": -0.333, "type": "quantitative"}}},
  {"data": {"name": "one"}, "mark": {"type": "text", "text": "A1x", "fontSize": 25, "align": "left", "baseline": "alphabetic", "color": "#262626"},
   "encoding": {"x": {"datum": 1.4225, "type": "quantitative"}, "y": {"datum": -0.614, "type": "quantitative"}}}
 ]},
 {"width": 453, "height": 218, "layer": [
  {"data": {"name": "c2a"}, "mark": {"type": "line", "strokeWidth": 3, "interpolate": "catmull-rom"},
   "encoding": {
    "x": {"field": "x", "type": "quantitative", "scale": {"domain": [0.01, 3], "nice": false, "zero": false}, "axis": {"values": [0.5,1,1.5,2,2.5,3], "title": null, "labelExpr": "'' + datum.value"}},
    "y": {"field": "y", "type": "quantitative", "scale": {"domain": [0.7, 4.3], "nice": false, "zero": false}, "axis": {"values": [1,2,3,4], "labelExpr": "'' + datum.value", "title": null}},
    "color": {"field": "b", "type": "nominal", "scale": {"domain": ["b1","b2","b3","b4","b5"], "range": ["#E2491A","#EDA91F","#6A1CEE","#3A8DF2","#3A8DF2"]}, "legend": null},
    "order": {"field": "i", "type": "quantitative"}}},
  {"data": {"name": "one"}, "mark": {"type": "text", "text": "M", "fontSize": 31, "align": "left", "baseline": "alphabetic", "color": "#262626"},
   "encoding": {"x": {"datum": 1.251, "type": "quantitative"}, "y": {"datum": -0.333, "type": "quantitative"}}},
  {"data": {"name": "one"}, "mark": {"type": "text", "text": "A1x", "fontSize": 25, "align": "left", "baseline": "alphabetic", "color": "#262626"},
   "encoding": {"x": {"datum": 1.4225, "type": "quantitative"}, "y": {"datum": -0.614, "type": "quantitative"}}}
 ]},
 {"width": 453, "height": 218, "layer": [
  {"data": {"name": "c3a"}, "mark": {"type": "line", "strokeWidth": 3, "interpolate": "catmull-rom"},
   "encoding": {
    "x": {"field": "x", "type": "quantitative", "scale": {"domain": [0.01, 3], "nice": false, "zero": false}, "axis": {"values": [0.5,1,1.5,2,2.5,3], "title": null, "labelExpr": "'' + datum.value"}},
    "y": {"field": "y", "type": "quantitative", "scale": {"domain": [0.7, 4.3], "nice": false, "zero": false}, "axis": {"values": [1,2,3,4], "labelExpr": "'' + datum.value", "title": null}},
    "color": {"field": "b", "type": "nominal", "scale": {"domain": ["b1","b2","b3","b4","b5"], "range": ["#E2491A","#EDA91F","#6A1CEE","#3A8DF2","#3A8DF2"]}, "legend": null},
    "order": {"field": "i", "type": "quantitative"}}},
  {"data": {"name": "o_r"}, "mark": {"type": "point", "shape": "circle", "filled": false, "stroke": "#1a1a1a", "strokeWidth": 1.3, "size": 115, "opacity": 1},
   "encoding": {"x": {"field": "x", "type": "quantitative"}, "y": {"field": "y", "type": "quantitative"}}},
  {"data": {"name": "one"}, "mark": {"type": "text", "text": "M", "fontSize": 31, "align": "left", "baseline": "alphabetic", "color": "#262626"},
   "encoding": {"x": {"datum": 1.251, "type": "quantitative"}, "y": {"datum": -0.333, "type": "quantitative"}}},
  {"data": {"name": "one"}, "mark": {"type": "text", "text": "A1x", "fontSize": 25, "align": "left", "baseline": "alphabetic", "color": "#262626"},
   "encoding": {"x": {"datum": 1.4225, "type": "quantitative"}, "y": {"datum": -0.614, "type": "quantitative"}}}
 ]}
]
}
